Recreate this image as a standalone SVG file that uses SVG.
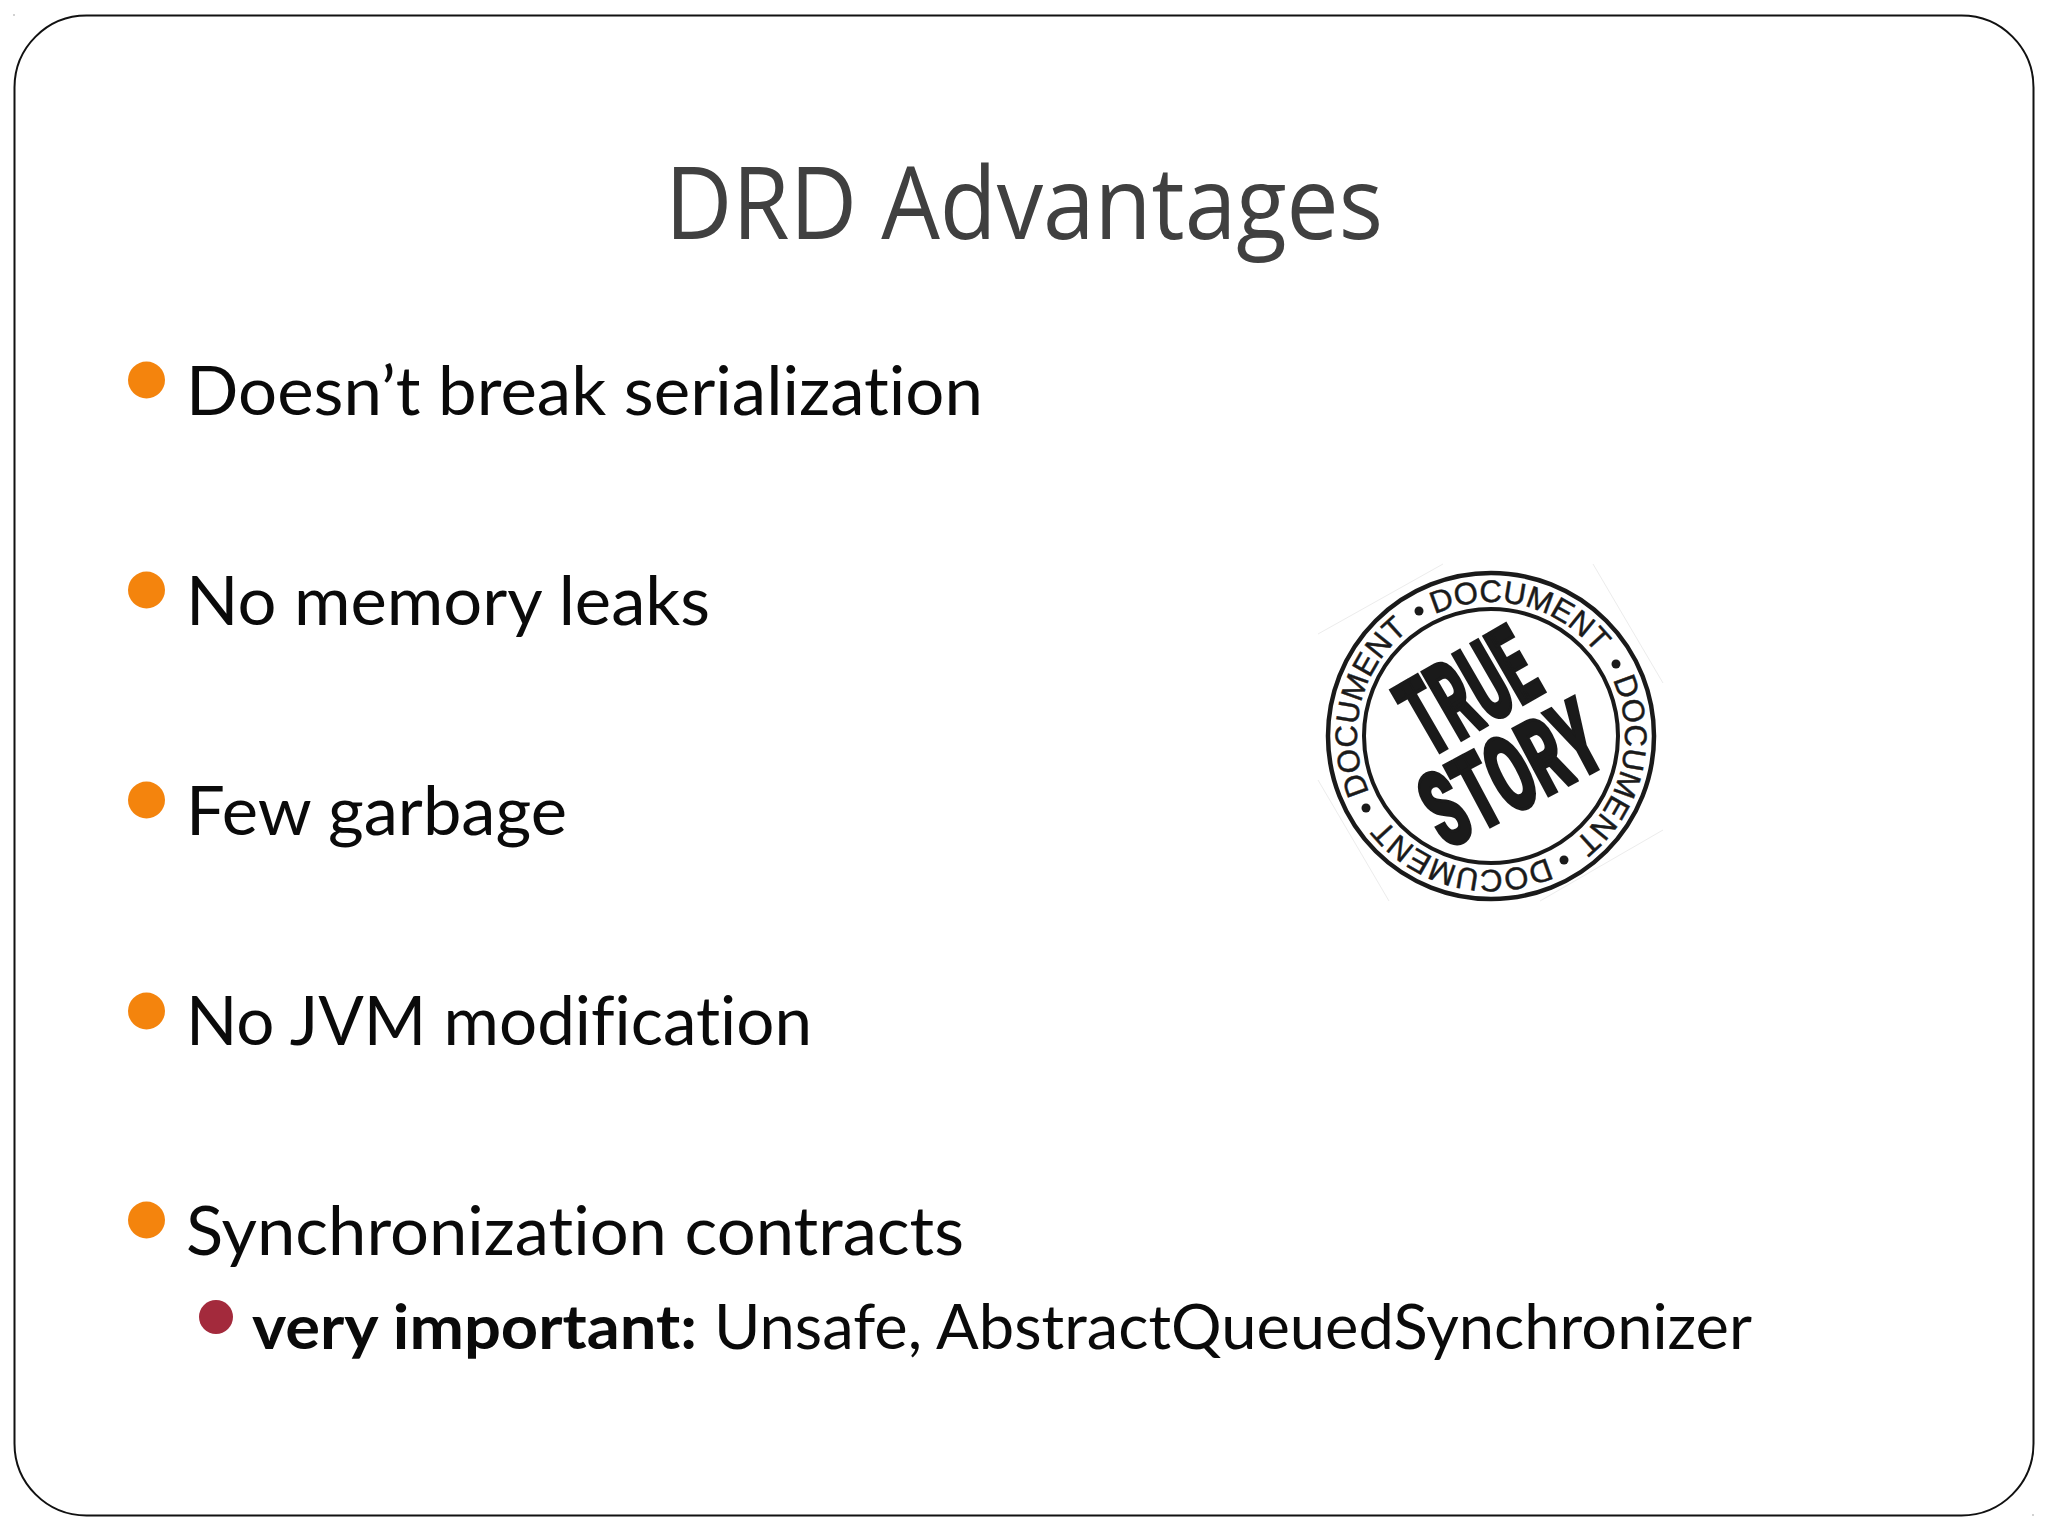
<svg xmlns="http://www.w3.org/2000/svg" width="2048" height="1536" viewBox="0 0 2048 1536">
<style>
.b{font-family:"Lato","Carlito","Liberation Sans",sans-serif;font-size:68px;fill:#0a0a0a;font-variant-ligatures:none}
.bo{fill:#f4840d}
.ring{font-family:"Liberation Sans",Arial,sans-serif;font-size:31px;fill:#1a1a1a;stroke:#1a1a1a;stroke-width:.5}
.big{font-family:"Roboto","Liberation Sans",sans-serif;font-weight:900;fill:#1a1a1a;stroke:#1a1a1a;stroke-width:3.500}
.f{stroke:#ececec;stroke-width:1;fill:none}
</style>
<defs><path id="arc" d="M1491 870 A134 134 0 1 1 1491.01 870"/></defs>
<rect width="2048" height="1536" fill="#fff"/>
<rect x="14.500" y="15.500" width="2019" height="1500" rx="72" ry="72" fill="#fff" stroke="#111" stroke-width="2"/>
<circle cx="14" cy="15" r="0.800" fill="#999"/>
<circle cx="2033" cy="1515" r="0.800" fill="#999"/>
<text x="1024" y="239" text-anchor="middle" textLength="718" lengthAdjust="spacingAndGlyphs" font-family="Open Sans, Liberation Sans, sans-serif" font-size="100" fill="#404040">DRD Advantages</text>
<circle class="bo" cx="146.500" cy="380" r="18.500"/>
<circle class="bo" cx="146.500" cy="590" r="18.500"/>
<circle class="bo" cx="146.500" cy="800" r="18.500"/>
<circle class="bo" cx="146.500" cy="1011" r="18.500"/>
<circle class="bo" cx="146.500" cy="1220" r="18.500"/>
<circle cx="216" cy="1317" r="17" fill="#a32a3c"/>
<text class="b" x="186" y="415" textLength="797" lengthAdjust="spacingAndGlyphs">Doesn’t break serialization</text>
<text class="b" x="186" y="625" textLength="524" lengthAdjust="spacingAndGlyphs">No memory leaks</text>
<text class="b" x="186" y="835" textLength="381" lengthAdjust="spacingAndGlyphs">Few garbage</text>
<text class="b" x="186" y="1045" textLength="626" lengthAdjust="spacingAndGlyphs">No JVM modification</text>
<text class="b" x="186" y="1255" textLength="778" lengthAdjust="spacingAndGlyphs">Synchronization contracts</text>
<text class="b" x="252" y="1349" font-weight="700" style="font-size:62px" textLength="445" lengthAdjust="spacingAndGlyphs">very important:</text>
<text class="b" x="714" y="1349" style="font-size:62px" textLength="1038" lengthAdjust="spacingAndGlyphs">Unsafe, AbstractQueuedSynchronizer</text>
<g id="stamp">
<path class="f" d="M1318 634L1443 564M1593 564L1663 683M1663 830L1540 901M1389 901L1318 780"/>
<circle cx="1491" cy="736" r="163" fill="#fff" stroke="#1a1a1a" stroke-width="4.500"/>
<circle cx="1491" cy="736" r="127" fill="none" stroke="#1a1a1a" stroke-width="4"/>
<g fill="#1a1a1a"><circle cx="1419" cy="611" r="4.500"/><circle cx="1616" cy="664" r="4.500"/><circle cx="1564" cy="860" r="4.500"/><circle cx="1366" cy="808" r="4.500"/></g>
<g class="ring" text-anchor="middle">
<text transform="rotate(13.500 1491 736)"><textPath href="#arc" startOffset="50%">DOCUMENT</textPath></text>
<text transform="rotate(103.500 1491 736)"><textPath href="#arc" startOffset="50%">DOCUMENT</textPath></text>
<text transform="rotate(193.500 1491 736)"><textPath href="#arc" startOffset="50%">DOCUMENT</textPath></text>
<text transform="rotate(283.500 1491 736)"><textPath href="#arc" startOffset="50%">DOCUMENT</textPath></text>
</g>
<text class="big" transform="translate(1468 691) rotate(-30)" x="0" y="39" text-anchor="middle" font-size="110" textLength="136" lengthAdjust="spacingAndGlyphs">TRUE</text>
<text class="big" transform="translate(1510 773) rotate(-28)" x="0" y="38" text-anchor="middle" font-size="106" textLength="186" lengthAdjust="spacingAndGlyphs">STORY</text>
</g>
</svg>
